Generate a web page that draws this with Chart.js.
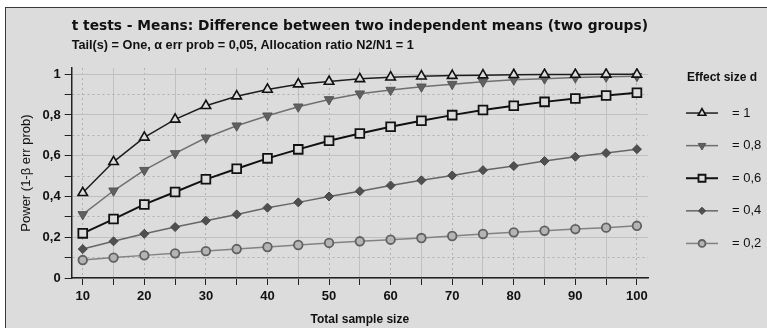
<!DOCTYPE html>
<html>
<head>
<meta charset="utf-8">
<title>t tests - Means: power curves</title>
<script src="https://cdn.jsdelivr.net/npm/chart.js@4/dist/chart.umd.min.js"></script>
<style>
  html, body { margin: 0; padding: 0; background: #fff; }
  .frame {
    position: absolute; left: 5px; top: 7px; width: 770px; height: 340px;
    background: #dcdcdc; border: 1px solid #3a3a3a; box-sizing: border-box;
  }
  .wrap { position: absolute; left: 0; top: 0; width: 767px; height: 328px; overflow: hidden; }
</style>
</head>
<body>
<div class="wrap">
  <div class="frame"></div>
  <canvas id="chart" width="767" height="328" style="position:absolute;left:0;top:0;"></canvas>
</div>
<script>
  /* ---------- Data ---------- */

  const sampleSizes = [10, 15, 20, 25, 30, 35, 40, 45, 50, 55, 60, 65, 70, 75, 80, 85, 90, 95, 100];
  const effectLabels = ['= 1', '= 0,8', '= 0,6', '= 0,4', '= 0,2'];

  const power10 = [0.418, 0.570, 0.690, 0.778, 0.845, 0.892, 0.925, 0.951, 0.964, 0.977, 0.985, 0.990, 0.993, 0.995, 0.997, 0.998, 0.998, 0.999, 0.999];
  const power08 = [0.312, 0.428, 0.529, 0.611, 0.688, 0.747, 0.796, 0.840, 0.876, 0.904, 0.922, 0.938, 0.951, 0.963, 0.972, 0.978, 0.983, 0.987, 0.990];
  const power06 = [0.219, 0.289, 0.361, 0.422, 0.484, 0.536, 0.587, 0.631, 0.673, 0.709, 0.742, 0.771, 0.799, 0.824, 0.845, 0.864, 0.881, 0.895, 0.909];
  const power04 = [0.142, 0.180, 0.217, 0.250, 0.281, 0.312, 0.345, 0.371, 0.400, 0.426, 0.454, 0.479, 0.503, 0.529, 0.549, 0.574, 0.595, 0.613, 0.632];
  const power02 = [0.088, 0.100, 0.111, 0.121, 0.132, 0.142, 0.152, 0.162, 0.172, 0.180, 0.188, 0.196, 0.206, 0.216, 0.224, 0.232, 0.240, 0.247, 0.256];

  const xTicks = [10, 15, 20, 25, 30, 35, 40, 45, 50, 55, 60, 65, 70, 75, 80, 85, 90, 95, 100];
  const xLabels = ['10', '', '20', '', '30', '', '40', '', '50', '', '60', '', '70', '', '80', '', '90', '', '100'];
  const yTicks = [0, 0.1, 0.2, 0.3, 0.4, 0.5, 0.6, 0.7, 0.8, 0.9, 1];
  const yLabels = ['0', '', '0,2', '', '0,4', '', '0,6', '', '0,8', '', '1'];

  const FONT = "'Liberation Sans', Arial, sans-serif";
  const WIDE = "'DejaVu Sans', Verdana, sans-serif";

  /* ---------- Series styling ---------- */

  function series(label, data, line, pt) {
    return Object.assign({
      label: label,
      data: data.map((v, i) => ({ x: sampleSizes[i], y: v })),
      borderColor: line.color,
      borderWidth: line.width,
      tension: 0,
      pointHoverRadius: pt.pointRadius,
    }, pt);
  }

  const datasets = [
    series(effectLabels[0], power10, { color: '#1e1e1e', width: 1.5 },
      { pointStyle: 'triangle', pointRadius: 5.5, pointBackgroundColor: '#dcdcdc', pointBorderColor: '#111', pointBorderWidth: 1.6 }),
    series(effectLabels[1], power08, { color: '#707070', width: 1.5 },
      { pointStyle: 'triangle', pointRotation: 180, pointRadius: 5.5, pointBackgroundColor: '#606060', pointBorderColor: '#555', pointBorderWidth: 1 }),
    series(effectLabels[2], power06, { color: '#111', width: 2 },
      { pointStyle: 'rect', pointRadius: 6.2, pointBackgroundColor: '#dcdcdc', pointBorderColor: '#111', pointBorderWidth: 1.8 }),
    series(effectLabels[3], power04, { color: '#666', width: 1.5 },
      { pointStyle: 'rectRot', pointRadius: 4.5, pointBackgroundColor: '#505050', pointBorderColor: '#444', pointBorderWidth: 1 }),
    series(effectLabels[4], power02, { color: '#828282', width: 1.5 },
      { pointStyle: 'circle', pointRadius: 4.3, pointBackgroundColor: '#b4b4b4', pointBorderColor: '#606060', pointBorderWidth: 1.8 }),
  ];

  /* ---------- Legend drawn to the right of the plot ---------- */

  const sideLegend = {
    id: 'sideLegend',
    afterDraw(chart) {
      const { ctx, chartArea } = chart;
      const x0 = chartArea.right + 38;
      ctx.save();
      ctx.fillStyle = '#111';
      ctx.font = 'bold 12px ' + FONT;
      ctx.textBaseline = 'middle';
      ctx.textAlign = 'left';
      ctx.fillText('Effect size d', x0 + 1, chartArea.top + 10);

      chart.data.datasets.forEach((ds, i) => {
        const y = chartArea.top + 45 + i * 32.6;
        ctx.strokeStyle = ds.borderColor;
        ctx.lineWidth = ds.borderWidth;
        ctx.beginPath();
        ctx.moveTo(x0, y);
        ctx.lineTo(x0 + 32, y);
        ctx.stroke();
        ctx.fillStyle = ds.pointBackgroundColor;
        ctx.strokeStyle = ds.pointBorderColor;
        ctx.lineWidth = ds.pointBorderWidth;
        Chart.helpers.drawPoint(ctx, {
          pointStyle: ds.pointStyle,
          rotation: ds.pointRotation || 0,
          radius: ds.pointRadius * 0.8,
          borderWidth: ds.pointBorderWidth,
        }, x0 + 16, y);
        ctx.fillStyle = '#111';
        ctx.font = '13px ' + FONT;
        ctx.fillText(ds.label, x0 + 46, y);
      });
      ctx.restore();
    },
  };

  /* ---------- Chart ---------- */

  const dottedX = (c) => (c.tick && c.tick.value % 10 === 0 ? [2, 3] : []);
  const dottedY = (c) => (c.tick && Math.round(c.tick.value * 10) % 2 === 1 ? [2, 3] : []);

  new Chart(document.getElementById('chart'), {
    type: 'line',
    data: { datasets: datasets },
    plugins: [sideLegend],
    options: {
      responsive: false,
      animation: false,
      layout: { padding: { left: 13, right: 119, top: 0, bottom: 1 } },
      scales: {
        x: {
          type: 'linear',
          min: 8.2,
          max: 101.8,
          afterBuildTicks: (s) => { s.ticks = xTicks.map((v) => ({ value: v })); },
          grid: {
            color: (c) => (c.tick && c.tick.value % 10 === 0 ? '#b0b0b0' : '#c0c0c0'),
            lineWidth: 1,
            tickColor: '#222',
            tickLength: 7,
          },
          border: { color: '#222', width: 1.5, dash: dottedX },
          ticks: {
            color: '#111',
            font: { family: FONT, size: 13, weight: 'bold' },
            padding: 4,
            maxRotation: 0,
            autoSkip: false,
            callback: (v, i) => xLabels[i],
          },
          title: {
            display: true,
            text: 'Total sample size',
            color: '#111',
            font: { family: FONT, size: 12, weight: 'bold' },
            padding: { top: 4, bottom: 0 },
          },
        },
        y: {
          type: 'linear',
          min: 0,
          max: 1.03,
          afterBuildTicks: (s) => { s.ticks = yTicks.map((v) => ({ value: v })); },
          grid: {
            color: (c) => (c.tick && Math.round(c.tick.value * 10) % 2 === 1 ? '#b0b0b0' : '#c0c0c0'),
            lineWidth: 1,
            tickColor: '#222',
            tickLength: 7,
          },
          border: { color: '#222', width: 1.5, dash: dottedY },
          ticks: {
            color: '#111',
            font: { family: FONT, size: 13, weight: 'bold' },
            padding: 4,
            autoSkip: false,
            callback: (v, i) => yLabels[i],
          },
          title: {
            display: true,
            text: 'Power (1-β err prob)',
            color: '#111',
            font: { family: FONT, size: 13 },
            padding: { top: 6, bottom: 4 },
          },
        },
      },
      plugins: {
        legend: { display: false },
        tooltip: { enabled: false },
        title: {
          display: true,
          fullSize: false,
          align: 'start',
          text: 't tests - Means: Difference between two independent means (two groups)',
          color: '#111',
          font: { family: WIDE, size: 14, weight: 'bold' },
          padding: { top: 18, bottom: 3 },
        },
        subtitle: {
          display: true,
          fullSize: false,
          align: 'start',
          text: 'Tail(s) = One, α err prob = 0,05, Allocation ratio N2/N1 = 1',
          color: '#111',
          font: { family: FONT, size: 12.7, weight: 'bold' },
          padding: { top: 0, bottom: 15 },
        },
      },
    },
  });
</script>
</body>
</html>
